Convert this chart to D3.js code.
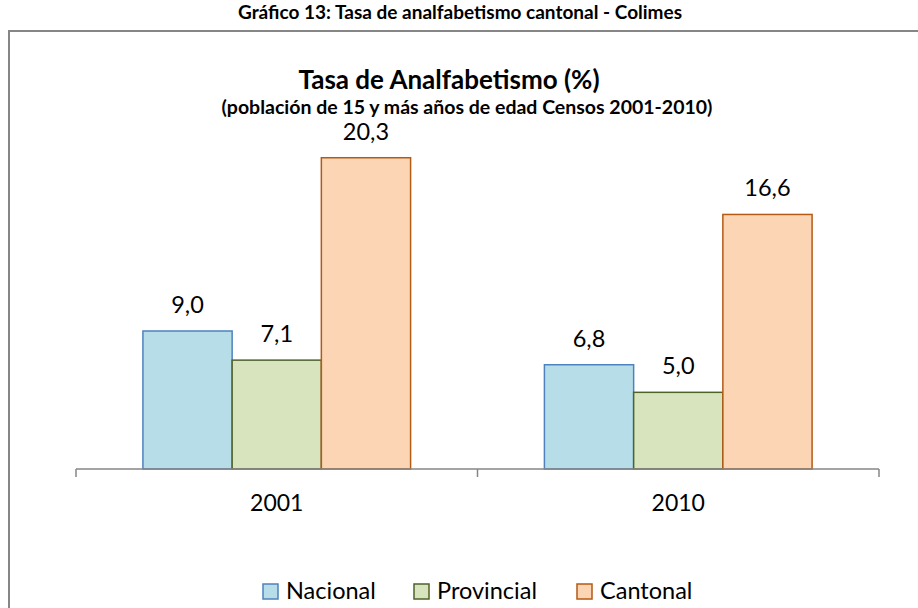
<!DOCTYPE html>
<html>
<head>
<meta charset="utf-8">
<script src="https://cdn.jsdelivr.net/npm/d3@7"></script>
<style>
  body { margin: 0; background: #fff; }
  svg { display: block; font-family: Lato, "Open Sans", sans-serif; }
</style>
</head>
<body>
<div id="chart"></div>
<script>
const years = ['2001', '2010']
const series = ['Nacional', 'Provincial', 'Cantonal']
const nacional = [9.0, 6.8]
const provincial = [7.1, 5.0]
const cantonal = [20.3, 16.6]

const fills = { Nacional: '#b7dee8', Provincial: '#d7e4bd', Cantonal: '#fcd5b5' }
const strokes = { Nacional: '#4f81bd', Provincial: '#4f6228', Cantonal: '#b35a14' }

const w = 918
const h = 608
const left = 76
const right = 879
const base = 469

const rows = years.map((y, i) => ({
  year: y,
  vals: [
    { key: 'Nacional', v: nacional[i] },
    { key: 'Provincial', v: provincial[i] },
    { key: 'Cantonal', v: cantonal[i] }
  ]
}))

const svg = d3.select('#chart')
  .append('svg')
  .attr('width', w)
  .attr('height', h)

// heading above the frame
svg.append('text')
  .attr('x', 460).attr('y', 19)
  .attr('text-anchor', 'middle')
  .style('font-weight', 'bold')
  .style('font-size', '19px')
  .text('Gráfico 13: Tasa de analfabetismo cantonal - Colimes')

// chart frame
svg.append('rect')
  .attr('x', 9).attr('y', 31)
  .attr('width', w + 20).attr('height', h)
  .attr('fill', 'none')
  .attr('stroke', '#868686')
  .attr('stroke-width', 2)

svg.append('text')
  .attr('x', 449).attr('y', 89)
  .attr('text-anchor', 'middle')
  .style('font-weight', 'bold')
  .style('font-size', '26px')
  .text('Tasa de Analfabetismo (%)')

svg.append('text')
  .attr('x', 467).attr('y', 114)
  .attr('text-anchor', 'middle')
  .style('font-weight', 'bold')
  .style('font-size', '19.5px')
  .text('(población de 15 y más años de edad Censos 2001-2010)')

const x0 = d3.scaleBand()
  .domain(years)
  .range([left, right])

const x1 = d3.scaleBand()
  .domain(series)
  .range([0, x0.bandwidth()])
  .paddingOuter(0.75)

const y = d3.scaleLinear()
  .domain([0, 9])
  .range([base, base - 138])

const groups = svg.selectAll('g.grp')
  .data(rows)
  .enter()
  .append('g')
  .attr('class', 'grp')
  .attr('transform', d => `translate(${x0(d.year)}, 0)`)

groups.selectAll('rect')
  .data(d => d.vals)
  .enter()
  .append('rect')
  .attr('x', d => x1(d.key))
  .attr('y', d => y(d.v))
  .attr('width', x1.bandwidth())
  .attr('height', d => y(0) - y(d.v))
  .attr('fill', d => fills[d.key])
  .attr('stroke', d => strokes[d.key])
  .attr('stroke-width', 1.5)

groups.selectAll('text')
  .data(d => d.vals)
  .enter()
  .append('text')
  .attr('x', d => x1(d.key) + x1.bandwidth() / 2)
  .attr('y', d => y(d.v) - 18)
  .attr('text-anchor', 'middle')
  .style('font-size', '23.5px')
  .text(d => d.v.toFixed(1).replace('.', ','))

// category axis
const xAxis = d3.axisBottom(x0).tickSize(0).tickPadding(26)
const ax = svg.append('g')
  .attr('transform', `translate(0, ${base})`)
  .call(xAxis)
ax.select('.domain').remove()
ax.selectAll('text')
  .style('font-family', 'Lato, sans-serif')
  .style('font-size', '23px')
  .attr('fill', '#000')

const edges = [left, ...years.slice(1).map(d => x0(d)), right]
ax.append('line')
  .attr('x1', left).attr('x2', right)
  .attr('stroke', '#868686').attr('stroke-width', 1.5)
ax.selectAll('line.edge')
  .data(edges)
  .enter()
  .append('line')
  .attr('class', 'edge')
  .attr('x1', d => d).attr('x2', d => d)
  .attr('y1', 0).attr('y2', 8)
  .attr('stroke', '#868686').attr('stroke-width', 1.5)

// legend
const legX = [263, 414, 577]
const leg = svg.selectAll('g.leg')
  .data(series)
  .enter()
  .append('g')
  .attr('class', 'leg')
  .attr('transform', (d, i) => `translate(${legX[i]}, 584)`)

leg.append('rect')
  .attr('width', 15).attr('height', 15)
  .attr('fill', d => fills[d])
  .attr('stroke', d => strokes[d])
  .attr('stroke-width', 1.5)

leg.append('text')
  .attr('x', 23).attr('y', 15)
  .style('font-size', '23.5px')
  .text(d => d)
</script>
</body>
</html>
